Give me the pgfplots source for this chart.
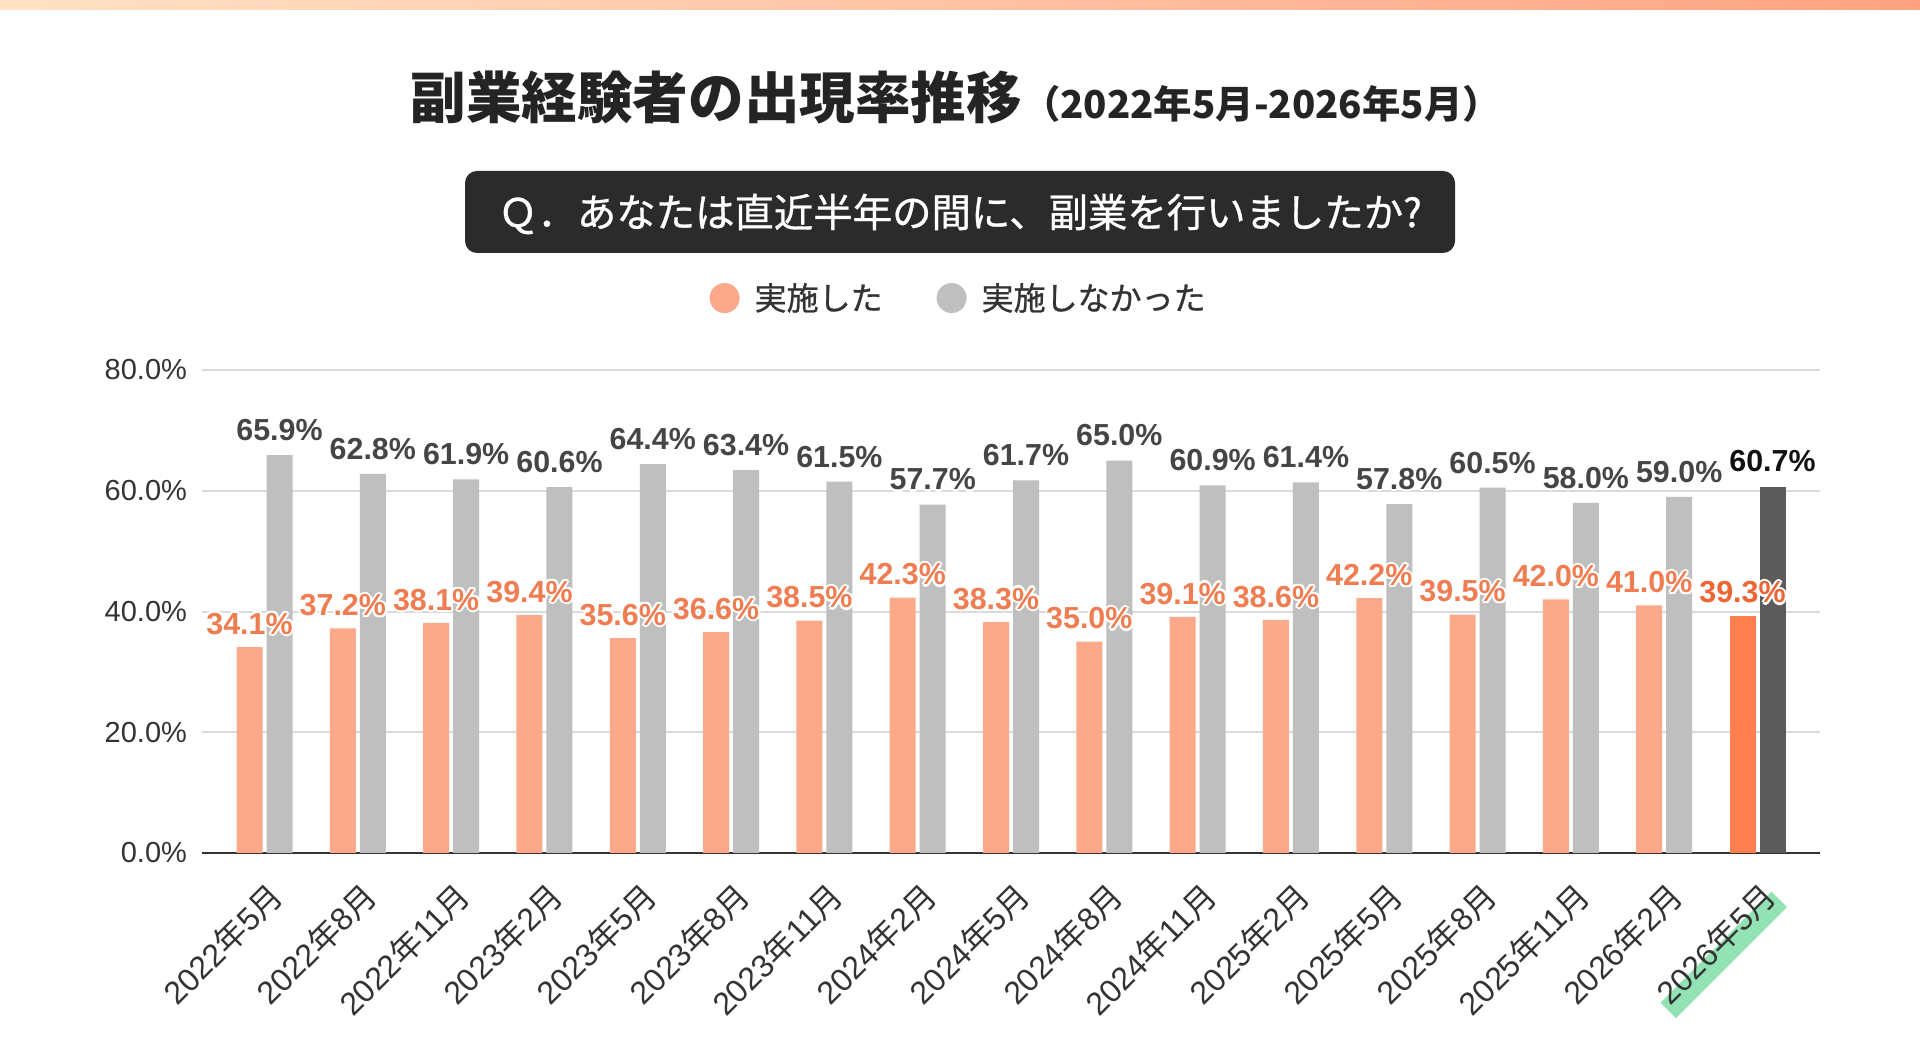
\documentclass[border=0pt]{standalone}
\usepackage{fontspec}
\usepackage{pgfplots}
\usepackage{pgfplotstable}
\pgfplotsset{compat=1.18}
\setmainfont{Liberation Sans}
\newfontfamily\jp{Noto Sans CJK JP}
\newfontfamily\jpm{Noto Sans CJK JP}[FakeBold=0.8]

\definecolor{barOr}{HTML}{FCA98B}
\definecolor{barGr}{HTML}{BFBFBF}
\definecolor{barOrHi}{HTML}{FF7F50}
\definecolor{barGrHi}{HTML}{5B5B5B}
\definecolor{lblOr}{HTML}{F07D52}
\definecolor{lblOrHi}{HTML}{EE6535}
\definecolor{lblGr}{HTML}{454545}
\definecolor{lblGrHi}{HTML}{111111}
\definecolor{txt}{HTML}{333333}
\definecolor{gridc}{HTML}{DADADA}
\definecolor{qbox}{HTML}{2B2B2B}
\definecolor{hl}{HTML}{93E2B4}
\definecolor{topL}{HTML}{FFE2C6}
\definecolor{topR}{HTML}{FFA382}

% survey rounds: share that did / did not do a side job (%)
\pgfplotstableread{
x did didnot
0 34.1 65.9
1 37.2 62.8
2 38.1 61.9
3 39.4 60.6
4 35.6 64.4
5 36.6 63.4
6 38.5 61.5
7 42.3 57.7
8 38.3 61.7
9 35.0 65.0
10 39.1 60.9
11 38.6 61.4
12 42.2 57.8
13 39.5 60.5
14 42.0 58.0
15 41.0 59.0
}\survey
\pgfplotstableread{
x did didnot
16 39.3 60.7
}\latest

\newcommand\ym[2]{#1{\jp 年}#2{\jp 月}}
% marker-pen highlight under the latest round's label
\newsavebox\hlb
\newcommand\hlbox[1]{\sbox\hlb{#1}\makebox[0pt][l]{\hspace*{-2bp}\textcolor{hl}{\rule[-6bp]{\dimexpr\wd\hlb+2bp\relax}{11bp}}}\usebox\hlb}

\pgfplotsset{
  dotlegend/.style={legend image code/.code={\fill[##1] (7.5bp,0bp) circle (7.5bp);}},
  /pgf/number format/assume math mode=true,
  % invisible copy of a series whose value labels form a white outline
  halo/.style={draw=none, fill=none, forget plot,
    every node near coord/.append style={text=white, shift={(#1:1.1bp)}}},
}

\begin{document}
\begin{tikzpicture}
\fill[white] (0,0) rectangle (960bp,530.5bp);
\useasboundingbox (0,0) rectangle (960bp,530.5bp);
\shade[left color=topL, right color=topR] (0,525.5bp) rectangle (960bp,530.5bp);

\node[anchor=base west, inner sep=0pt, text=txt!70!black] at (205bp,471bp)
  {\jp\bfseries\fontsize{27.8bp}{30bp}\selectfont 副業経験者の出現率推移{\fontsize{19.2bp}{20bp}\selectfont （2022年5月-2026年5月）}};

\fill[qbox, rounded corners=6bp] (232.5bp,404bp) rectangle (727.5bp,445bp);
\node[anchor=base, inner sep=0pt, text=white] at (480bp,417bp)
  {\jpm\fontsize{19.7bp}{22bp}\selectfont Ｑ．あなたは直近半年の間に、副業を行いましたか?};

\begin{axis}[
  at={(101bp,104bp)}, anchor=south west,
  scale only axis, width=809bp, height=241.5bp,
  ybar, bar width=13bp, dotlegend,
  xmin=-0.67, xmax=16.67, ymin=0, ymax=80,
  enlarge y limits=false,
  xtick={0,...,16},
  xticklabels={\ym{2022}{5},\ym{2022}{8},\ym{2022}{11},\ym{2023}{2},\ym{2023}{5},\ym{2023}{8},\ym{2023}{11},\ym{2024}{2},\ym{2024}{5},\ym{2024}{8},\ym{2024}{11},\ym{2025}{2},\ym{2025}{5},\ym{2025}{8},\ym{2025}{11},\ym{2026}{2},\hlbox{\ym{2026}{5}}},
  ytick={0,20,...,80},
  yticklabel={\pgfmathprintnumber[fixed,fixed zerofill,precision=1]{\tick}\%},
  ymajorgrids, grid style={gridc, line width=1bp},
  separate axis lines,
  axis x line*=bottom, axis y line*=left,
  y axis line style={draw=none},
  x axis line style={draw=txt, line width=1.2bp, -},
  major tick length=0pt, tick style={draw=none},
  ticklabel style={text=txt},
  yticklabel style={font=\fontsize{14.5bp}{16bp}\selectfont, xshift=-4bp},
  xticklabel style={font=\fontsize{16bp}{18bp}\selectfont, inner sep=0pt, xshift=1bp, yshift=-13bp, rotate=45, anchor=north east},
  point meta=y,
  nodes near coords={\pgfmathprintnumber[fixed,fixed zerofill,precision=1]{\pgfplotspointmeta}\%},
  every node near coord/.append style={font=\bfseries\fontsize{15.2bp}{17bp}\selectfont, anchor=south, inner sep=0pt},
  reverse legend,
  legend columns=2,
  legend style={at={(0.467,1.149)}, anchor=center, draw=none, fill=none,
    nodes={inner sep=0pt, text=txt, font=\jpm\fontsize{16bp}{18bp}\selectfont},
    /tikz/every odd column/.append style={column sep=7.5bp},
    /tikz/every even column/.append style={column sep=27bp}},
]
% 実施しなかった
\pgfplotsinvokeforeach{0,45,...,315}{
  \addplot[halo=#1, bar shift=7.5bp, every node near coord/.append style={yshift=7bp}]
    table[x=x, y=didnot] {\survey};
  \addplot[halo=#1, bar shift=7.5bp, every node near coord/.append style={yshift=7bp}]
    table[x=x, y=didnot] {\latest};
}
\addplot[fill=barGr, draw=none, bar shift=7.5bp,
  every node near coord/.append style={text=lblGr, yshift=7bp}]
  table[x=x, y=didnot] {\survey};
\addlegendentry{実施しなかった}
\addplot[fill=barGrHi, draw=none, bar shift=7.5bp, forget plot,
  every node near coord/.append style={text=lblGrHi, yshift=7bp}]
  table[x=x, y=didnot] {\latest};
% 実施した
\pgfplotsinvokeforeach{0,45,...,315}{
  \addplot[halo=#1, bar shift=-7.5bp, every node near coord/.append style={yshift=6bp}]
    table[x=x, y=did] {\survey};
  \addplot[halo=#1, bar shift=-7.5bp, every node near coord/.append style={yshift=6bp}]
    table[x=x, y=did] {\latest};
}
\addplot[fill=barOr, draw=none, bar shift=-7.5bp,
  every node near coord/.append style={text=lblOr, yshift=6bp}]
  table[x=x, y=did] {\survey};
\addlegendentry{実施した}
\addplot[fill=barOrHi, draw=none, bar shift=-7.5bp, forget plot,
  every node near coord/.append style={text=lblOrHi, yshift=6bp}]
  table[x=x, y=did] {\latest};
\end{axis}
\end{tikzpicture}
\end{document}
